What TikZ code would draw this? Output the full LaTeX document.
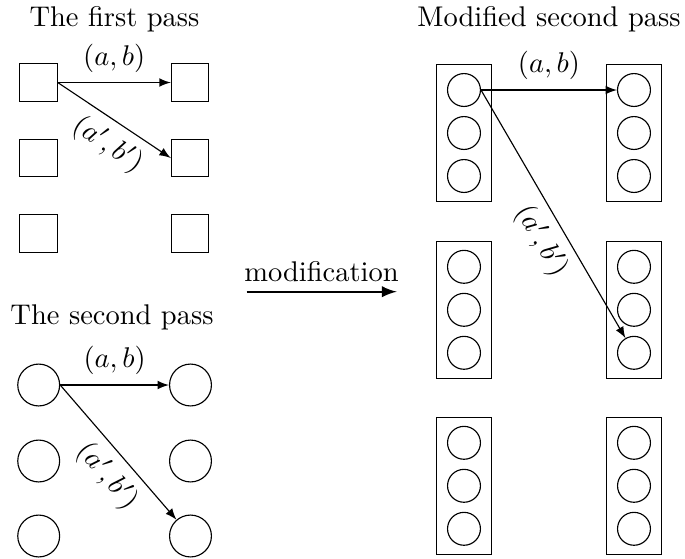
\documentclass[tikz,border=0pt]{standalone}
\usetikzlibrary{arrows}
\begin{document}
\begin{tikzpicture}[x=0.351pt,y=-0.351pt,
  sq/.style={draw,rectangle,minimum size=13.1pt,inner sep=0pt},
  bigc/.style={draw,circle,minimum size=14.7pt,inner sep=0pt},
  smallc/.style={draw,circle,minimum size=11.55pt,inner sep=0pt},
  col/.style={draw,rectangle,minimum width=19.5pt,minimum height=48.05pt,inner sep=0pt},
  arr/.style={-latex},
  lab/.style={midway,above},
  slab/.style={pos=0.56,below,sloped},
  title/.style={anchor=base}]
\useasboundingbox (0,0) rectangle (685,558);
% titles
\node[title] (t1) at (114.5,26) {The first pass};
\node[title] (t2) at (112,324) {The second pass};
\node[title] (t3) at (549,26) {Modified second pass};
% first pass squares
\node[sq] (s11) at (38.5,82.5) {};
\node[sq] (s12) at (38.5,158) {};
\node[sq] (s13) at (38.5,233.5) {};
\node[sq] (s21) at (190,82.5) {};
\node[sq] (s22) at (190,158) {};
\node[sq] (s23) at (190,233.5) {};
\draw[arr] (s11.east) -- node[lab] {$(a,b)$} (s21.west);
\draw[arr] (s11.east) -- node[slab] {$(a',b')$} (s22.west);
% second pass circles
\node[bigc] (c11) at (38.7,385) {};
\node[bigc] (c12) at (38.7,461) {};
\node[bigc] (c13) at (38.7,536) {};
\node[bigc] (c21) at (190.5,385) {};
\node[bigc] (c22) at (190.5,461) {};
\node[bigc] (c23) at (190.5,536) {};
\draw[arr] (c11.east) -- node[lab] {$(a,b)$} (c21.west);
\draw[arr] (c11.east) -- node[slab] {$(a',b')$} (c23);
% modification arrow
\node[title] (mod) at (321.5,281) {modification};
\coordinate (m1) at (246.7,291.7);
\coordinate (m2) at (396.7,291.7);
\draw[-latex,line width=0.8pt] (m1) -- (m2);
% modified second pass
\foreach \i/\y in {1/133,2/309.8,3/485.8}{
  \node[col] (L\i) at (464,\y) {};
  \node[col] (R\i) at (634,\y) {};
  \node[smallc] (L\i a) at (464,\y-43) {};
  \node[smallc] (L\i b) at (464,\y) {};
  \node[smallc] (L\i c) at (464,\y+43) {};
  \node[smallc] (R\i a) at (634,\y-43) {};
  \node[smallc] (R\i b) at (634,\y) {};
  \node[smallc] (R\i c) at (634,\y+43) {};
}
\draw[arr] (L1a.east) -- node[lab] {$(a,b)$} (R1a.west);
\draw[arr] (L1a.east) -- node[slab] {$(a',b')$} (R2c);
\end{tikzpicture}
\end{document}
